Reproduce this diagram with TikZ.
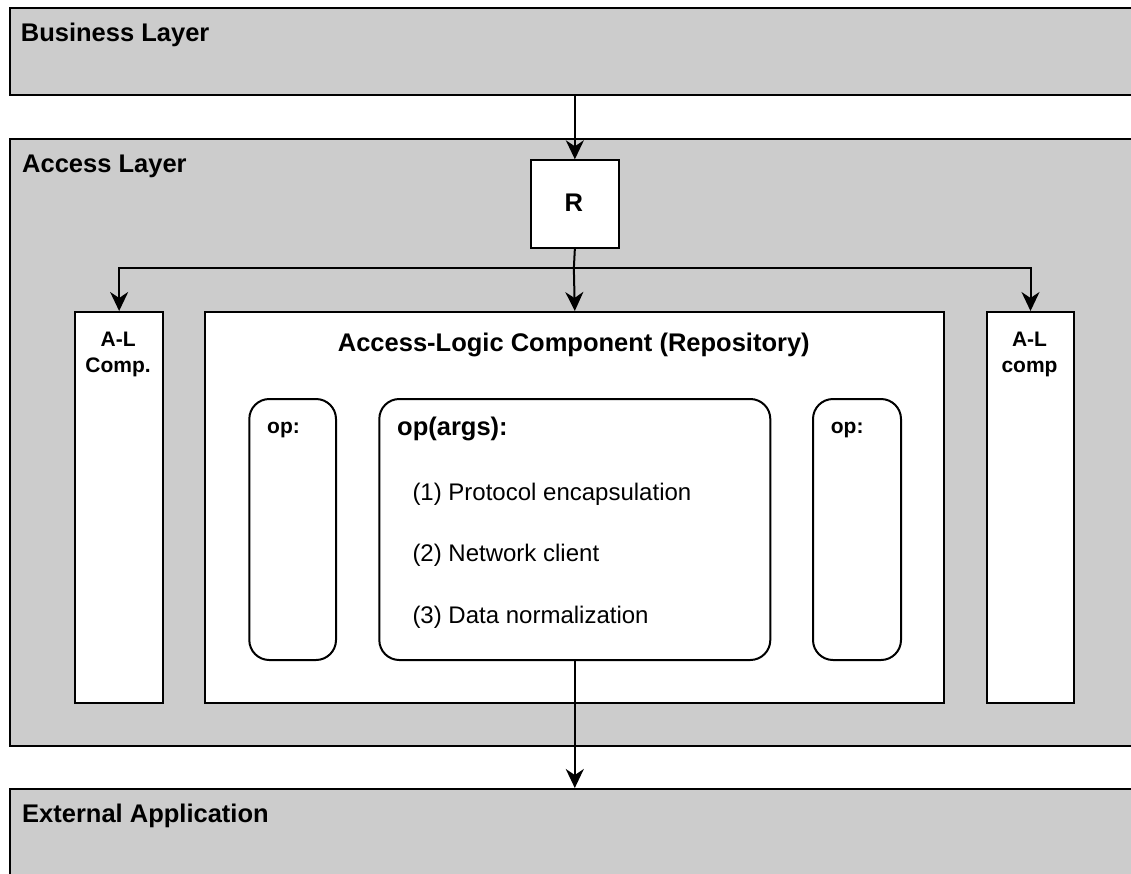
\documentclass[tikz,border=0pt]{standalone}
\usepackage{fontspec}
\setmainfont{Liberation Sans}
\usetikzlibrary{arrows.meta}
\definecolor{layergray}{HTML}{CCCCCC}

\begin{document}
\begin{tikzpicture}[x=1pt,y=-1pt,
  box/.style={draw=black, line width=2pt, anchor=north west, inner sep=0pt},
  layer/.style={box, fill=layergray},
  whitebox/.style={box, fill=white},
  opbox/.style={whitebox, rounded corners=20pt},
  link/.style={line width=2pt},
  arr/.style={link, -{Stealth[length=19pt,width=18pt,inset=6pt]}},
  bigbold/.style={font=\fontsize{25.5}{30}\selectfont\bfseries, inner sep=0pt},
  smallbold/.style={font=\fontsize{21}{25}\selectfont\bfseries, inner sep=0pt},
  plain/.style={font=\fontsize{24}{29}\selectfont, inner sep=0pt, anchor=base west}
]
\useasboundingbox (0,0) rectangle (1131,873);
\clip (0,0) rectangle (1131,873);

% layers (running off the right and bottom edges)
\node[layer, minimum width=1140pt, minimum height=87pt] (biz) at (9.3,7.3) {};
\node[layer, minimum width=1140pt, minimum height=607pt] (acc) at (9.3,137.7) {};
\node[layer, minimum width=1140pt, minimum height=100pt] (ext) at (9.3,788) {};

\node[bigbold, anchor=base west] (bizT) at (20.7,41.3) {Business Layer};
\node[bigbold, anchor=base west] (accT) at (22,172.3) {Access Layer};
\node[bigbold, anchor=base west] (extT) at (22,822) {External Application};

% router
\node[whitebox, minimum width=87.7pt, minimum height=87.4pt] (r) at (530,159.3) {};
\node[bigbold, anchor=base] (rT) at (573.85,211) {R};

% access-logic components
\node[whitebox, minimum width=87.7pt, minimum height=391pt] (alL) at (74.3,311) {};
\node[whitebox, minimum width=739pt, minimum height=391pt] (repo) at (204.3,311) {};
\node[whitebox, minimum width=87.6pt, minimum height=391pt] (alR) at (985.7,311) {};

\node[smallbold, anchor=base] (alLa) at (118.15,346.7) {A-L};
\node[smallbold, anchor=base] (alLb) at (118.15,372.7) {Comp.};
\node[smallbold, anchor=base] (alRa) at (1029.5,346.7) {A-L};
\node[smallbold, anchor=base] (alRb) at (1029.5,372.7) {comp};

\node[bigbold, anchor=base] (repoT) at (573.8,351.7) {Access-Logic Component (Repository)};

% operations
\node[opbox, minimum width=86.7pt, minimum height=261pt] (opL) at (248.3,398) {};
\node[opbox, minimum width=391pt, minimum height=261pt] (args) at (378.3,398) {};
\node[opbox, minimum width=88pt, minimum height=261pt] (opR) at (812,398) {};

\node[smallbold, anchor=base west] (opLT) at (267,433.3) {op:};
\node[smallbold, anchor=base west] (opRT) at (830.7,433.3) {op:};
\node[bigbold, anchor=base west] (argsT) at (397,435) {op(args):};
\node[plain] (step1) at (412.3,500.7) {(1) Protocol encapsulation};
\node[plain] (step2) at (412.3,561.7) {(2) Network client};
\node[plain] (step3) at (412.3,623.3) {(3) Data normalization};

% connectors
\coordinate (split) at (573.85,268.3);
\draw[arr] (r.north |- biz.south) -- (r.north);
\draw[link] (r.south) -- (split);
\draw[arr] (split) -- (repo.north);
\draw[arr] (split) -| (alL.north);
\draw[arr] (split) -| (alR.north);
\draw[arr] (args.south) -- (args.south |- ext.north);
\end{tikzpicture}
\end{document}
